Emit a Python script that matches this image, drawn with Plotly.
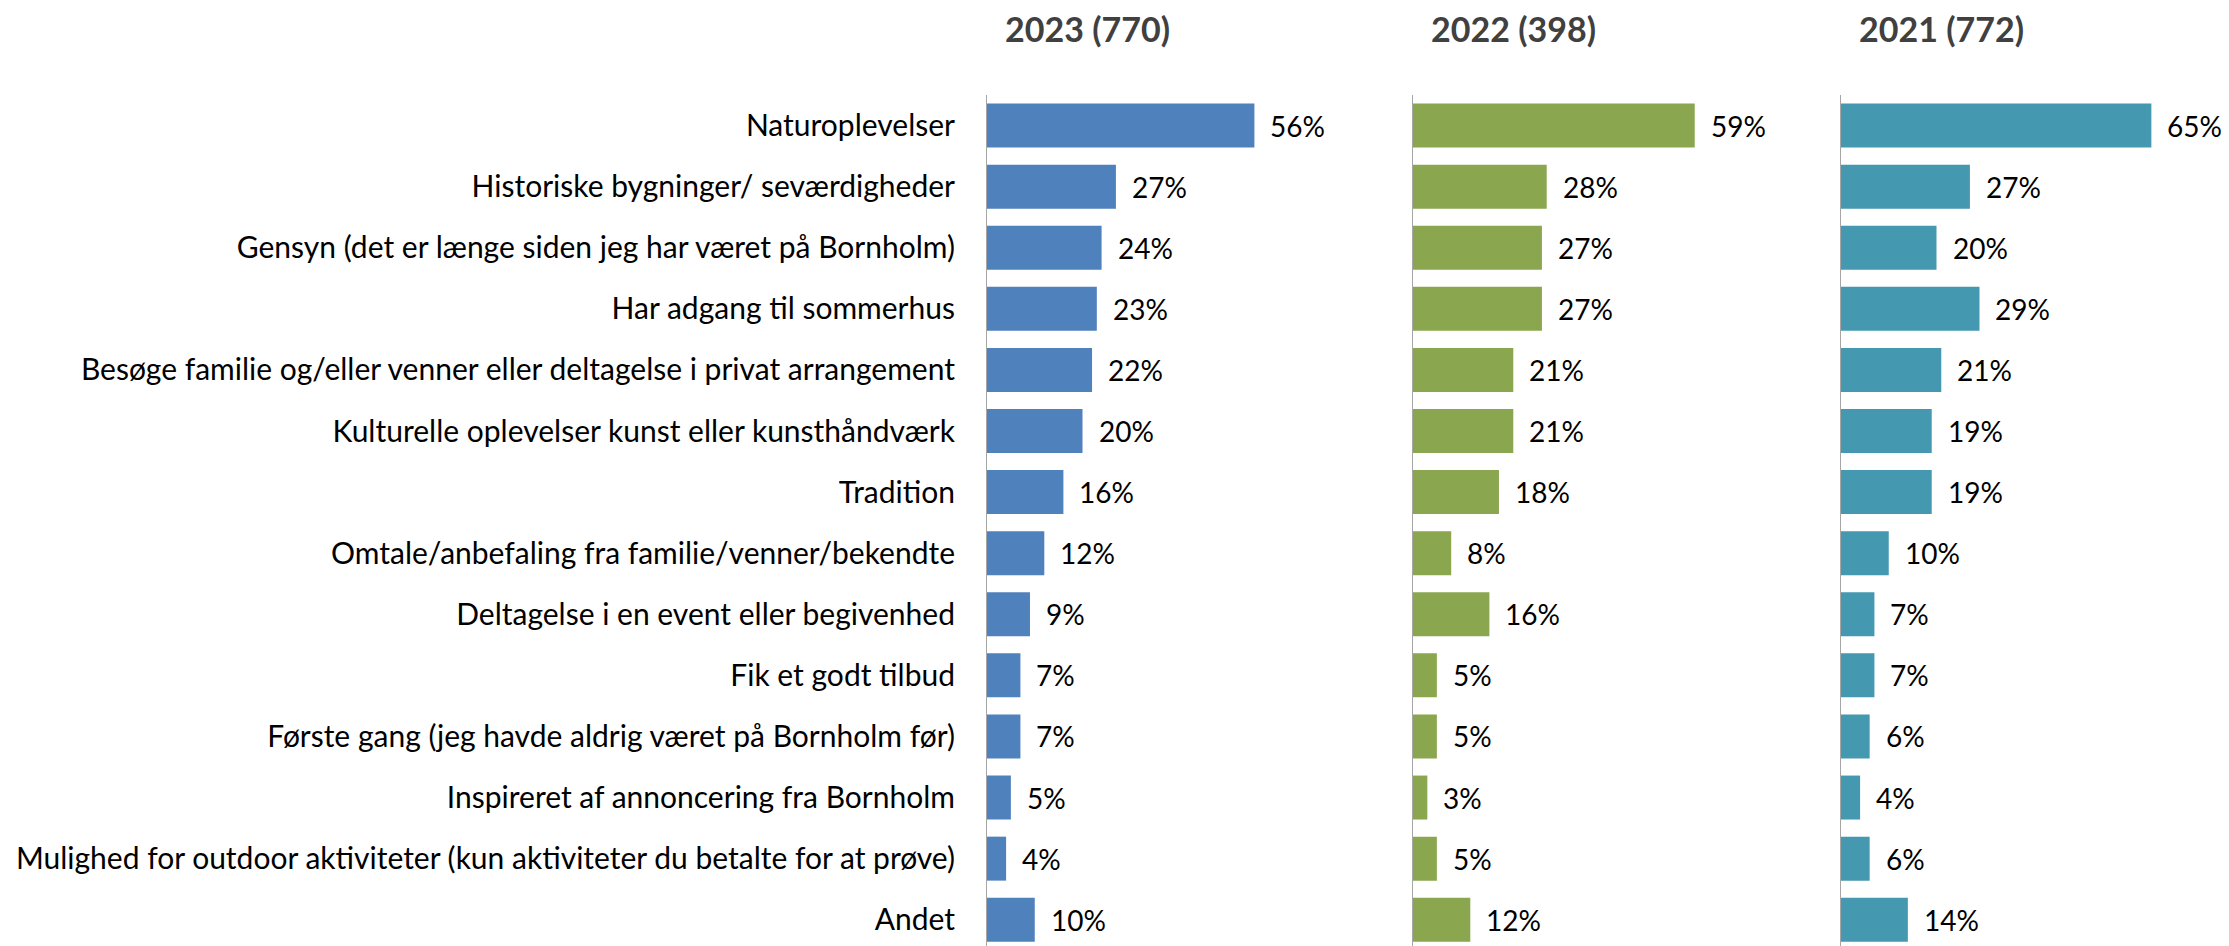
import plotly.graph_objects as go

categories = [
    "Naturoplevelser",
    "Historiske bygninger/ seværdigheder",
    "Gensyn (det er længe siden jeg har været på Bornholm)",
    "Har adgang til sommerhus",
    "Besøge familie og/eller venner eller deltagelse i privat arrangement",
    "Kulturelle oplevelser kunst eller kunsthåndværk",
    "Tradition",
    "Omtale/anbefaling fra familie/venner/bekendte",
    "Deltagelse i en event eller begivenhed",
    "Fik et godt tilbud",
    "Første gang (jeg havde aldrig været på Bornholm før)",
    "Inspireret af annoncering fra Bornholm",
    "Mulighed for outdoor aktiviteter (kun aktiviteter du betalte for at prøve)",
    "Andet",
]
panel_titles = ["2023 (770)", "2022 (398)", "2021 (772)"]
values_2023 = [56, 27, 24, 23, 22, 20, 16, 12, 9, 7, 7, 5, 4, 10]
values_2022 = [59, 28, 27, 27, 21, 21, 18, 8, 16, 5, 5, 3, 5, 12]
values_2021 = [65, 27, 20, 29, 21, 19, 19, 10, 7, 7, 6, 4, 6, 14]

series = [values_2023, values_2022, values_2021]
colors = ["#4F81BD", "#8AA64E", "#4499B0"]

W, H = 2229, 946
FONT = "Lato, 'Open Sans', sans-serif"
panel_left_px = [987, 1413, 1841]
panel_w_px = 382
XMAX = 80

fig = go.Figure()
annotations = []
for i, (vals, col) in enumerate(zip(series, colors)):
    xa = "x" if i == 0 else f"x{i+1}"
    ya = "y" if i == 0 else f"y{i+1}"
    fig.add_trace(go.Bar(
        x=vals, y=categories, orientation="h",
        marker=dict(color=col, line=dict(width=0)),
        xaxis=xa, yaxis=ya, showlegend=False, hoverinfo="x+y",
    ))
    for v, c in zip(vals, categories):
        annotations.append(dict(
            x=v, y=c, xref=xa, yref=ya, text=f"{v}%", showarrow=False,
            xanchor="left", yanchor="middle", xshift=14,
            font=dict(family=FONT, size=28, color="#000000"),
        ))
    annotations.append(dict(
        x=(panel_left_px[i] + 100) / W, y=1 + (95 - 28) / (H - 95),
        xref="paper", yref="paper", text=f"<b>{panel_titles[i]}</b>",
        showarrow=False, xanchor="center", yanchor="middle",
        font=dict(family=FONT, size=34, color="#404040"),
    ))

layout = dict(
    width=W, height=H,
    margin=dict(l=0, r=0, t=95, b=0),
    plot_bgcolor="white", paper_bgcolor="white",
    bargap=0.28,
    annotations=annotations,
    font=dict(family=FONT, color="#000000"),
)
for i in range(3):
    xk = "xaxis" if i == 0 else f"xaxis{i+1}"
    yk = "yaxis" if i == 0 else f"yaxis{i+1}"
    x0 = panel_left_px[i] / W
    x1 = (panel_left_px[i] + panel_w_px) / W
    layout[xk] = dict(
        domain=[x0, x1], range=[0, XMAX], visible=False,
        anchor="y" if i == 0 else f"y{i+1}", fixedrange=True,
    )
    layout[yk] = dict(
        anchor="x" if i == 0 else f"x{i+1}",
        type="category", categoryorder="array", categoryarray=categories,
        range=[13.43, -0.5],
        showline=True, linecolor="#A6A6A6", linewidth=1,
        showgrid=False, zeroline=False, ticks="",
        showticklabels=(i == 0),
        ticklabelstandoff=25,
        tickfont=dict(family=FONT, size=30, color="#000000"),
    )

fig.update_layout(**layout)
fig.write_html(
    "out.html",
    config={"displayModeBar": False},
    post_script="document.body.style.margin='0';document.body.style.overflow='hidden';",
)
